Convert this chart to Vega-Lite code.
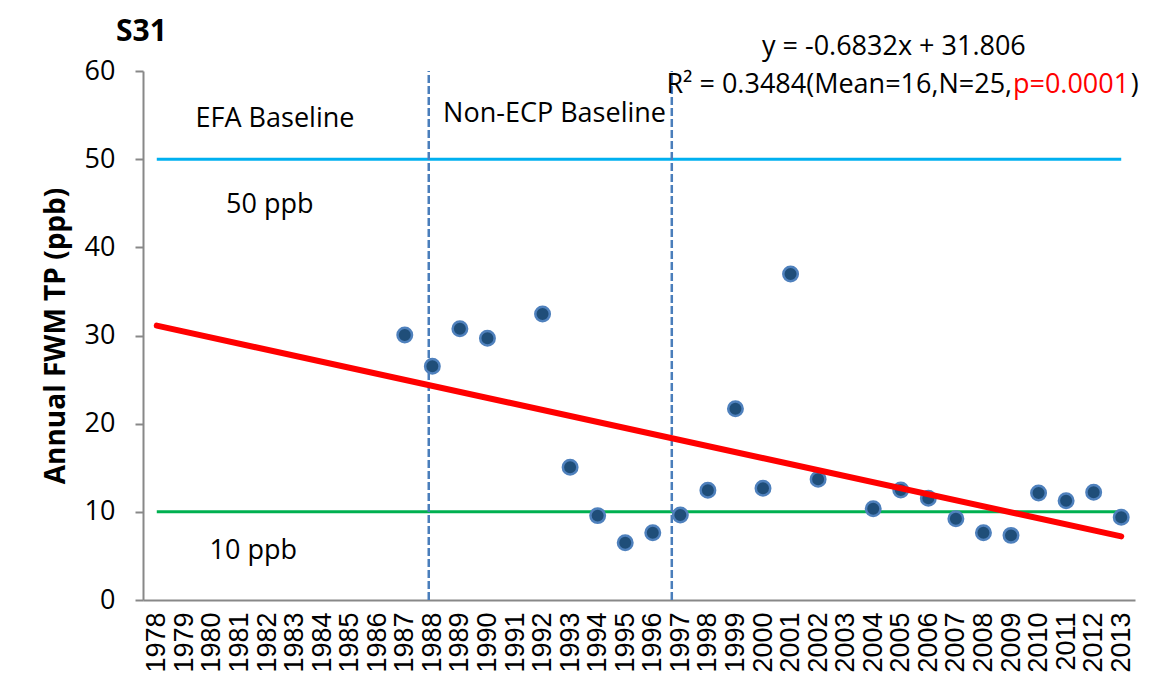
{
  "$schema": "https://vega.github.io/schema/vega-lite/v6.json",
  "autosize": {"type": "none"},
  "width": 992,
  "height": 529,
  "padding": {"left": 143, "top": 71, "right": 16, "bottom": 93},
  "background": "white",
  "config": {
    "view": {"stroke": null},
    "font": "Open Sans",
    "text": {"font": "Open Sans", "fontSize": 27, "color": "black"}
  },
  "title": {
    "text": "S31",
    "anchor": "start",
    "frame": "group",
    "dx": -27,
    "offset": -14,
    "fontSize": 30,
    "fontWeight": "bold",
    "font": "Open Sans",
    "color": "black"
  },
  "datasets": {
    "points": [
      {"year": 1987, "tp": 30.06},
      {"year": 1988, "tp": 26.5},
      {"year": 1989, "tp": 30.77},
      {"year": 1990, "tp": 29.68},
      {"year": 1992, "tp": 32.44},
      {"year": 1993, "tp": 15.05},
      {"year": 1994, "tp": 9.57},
      {"year": 1995, "tp": 6.5},
      {"year": 1996, "tp": 7.64},
      {"year": 1997, "tp": 9.64},
      {"year": 1998, "tp": 12.44},
      {"year": 1999, "tp": 21.7},
      {"year": 2000, "tp": 12.67},
      {"year": 2001, "tp": 36.97},
      {"year": 2002, "tp": 13.69},
      {"year": 2004, "tp": 10.36},
      {"year": 2005, "tp": 12.48},
      {"year": 2006, "tp": 11.53},
      {"year": 2007, "tp": 9.22},
      {"year": 2008, "tp": 7.64},
      {"year": 2009, "tp": 7.33},
      {"year": 2010, "tp": 12.14},
      {"year": 2011, "tp": 11.27},
      {"year": 2012, "tp": 12.22},
      {"year": 2013, "tp": 9.38}
    ],
    "limits": [
      {"year": 1978, "yearEnd": 2013, "tp": 50, "limit": "50 ppb"},
      {"year": 1978, "yearEnd": 2013, "tp": 10, "limit": "10 ppb"}
    ],
    "trend": [
      {"year": 1978, "tp": 31.12},
      {"year": 2013, "tp": 7.21}
    ],
    "periods": [
      {"year": 1987.87, "tp": 0, "tpHigh": 60},
      {"year": 1996.69, "tp": 0, "tpHigh": 60}
    ],
    "centerText": [
      {"year": 1982.29, "tp": 54.55, "label": "EFA Baseline"},
      {"year": 1982.1, "tp": 44.8, "label": "50 ppb"},
      {"year": 1981.5, "tp": 5.56, "label": "10 ppb"},
      {"year": 2004.75, "tp": 62.72, "label": "y = -0.6832x + 31.806"}
    ],
    "leftText": [
      {"year": 1988.39, "tp": 55.12, "label": "Non-ECP Baseline", "part": "black"},
      {"year": 2009.07, "tp": 58.41, "label": "p=0.0001", "part": "red"},
      {"year": 2013.35, "tp": 58.41, "label": ")", "part": "black"}
    ],
    "rightText": [
      {"year": 2009.04, "tp": 58.41, "label": "R² = 0.3484(Mean=16,N=25,"}
    ]
  },
  "encoding": {
    "x": {
      "field": "year",
      "type": "quantitative",
      "scale": {"domain": [1977.5, 2013.5], "nice": false, "zero": false},
      "axis": {
        "title": null,
        "values": [1978, 1979, 1980, 1981, 1982, 1983, 1984, 1985, 1986, 1987, 1988, 1989, 1990, 1991, 1992, 1993, 1994, 1995, 1996, 1997, 1998, 1999, 2000, 2001, 2002, 2003, 2004, 2005, 2006, 2007, 2008, 2009, 2010, 2011, 2012, 2013],
        "format": "d",
        "labelAngle": -90,
        "labelAlign": "right",
        "labelBaseline": "middle",
        "labelFont": "Liberation Sans",
        "labelFontSize": 27,
        "labelColor": "black",
        "labelPadding": 12,
        "labelOverlap": false,
        "labelFlush": false,
        "ticks": false,
        "grid": false,
        "domainColor": "#888888",
        "domainWidth": 2
      }
    },
    "y": {
      "field": "tp",
      "type": "quantitative",
      "scale": {"domain": [0, 60], "nice": false},
      "axis": {
        "title": "Annual FWM TP (ppb)",
        "titleFont": "Open Sans",
        "titleFontSize": 28,
        "titleFontWeight": "bold",
        "titleColor": "black",
        "titlePadding": 14,
        "values": [0, 10, 20, 30, 40, 50, 60],
        "labelFont": "Open Sans",
        "labelFontSize": 27,
        "labelColor": "black",
        "labelPadding": 20,
        "tickSize": 8,
        "tickColor": "#888888",
        "tickWidth": 2,
        "domainColor": "#888888",
        "domainWidth": 2,
        "grid": false
      }
    }
  },
  "layer": [
    {
      "data": {"name": "limits"},
      "mark": {"type": "rule", "strokeWidth": 3},
      "encoding": {
        "x2": {"field": "yearEnd"},
        "color": {
          "field": "limit",
          "type": "nominal",
          "scale": {"domain": ["50 ppb", "10 ppb"], "range": ["#00B0F0", "#00B050"]},
          "legend": null
        }
      }
    },
    {
      "data": {"name": "periods"},
      "mark": {"type": "rule", "strokeWidth": 2.5, "strokeDash": [8, 3], "color": "#4A7EBB"},
      "encoding": {
        "y2": {"field": "tpHigh"}
      }
    },
    {
      "data": {"name": "points"},
      "mark": {"type": "point", "filled": true, "size": 210, "color": "#1F4E79", "stroke": "#4F81BD", "strokeWidth": 2.5, "opacity": 1},
      "encoding": {}
    },
    {
      "data": {"name": "trend"},
      "mark": {"type": "line", "color": "#FF0000", "strokeWidth": 6, "strokeCap": "round"},
      "encoding": {}
    },
    {
      "data": {"name": "centerText"},
      "mark": {"type": "text", "align": "center", "baseline": "middle"},
      "encoding": {
        "text": {"field": "label"}
      }
    },
    {
      "data": {"name": "leftText"},
      "mark": {"type": "text", "align": "left", "baseline": "middle"},
      "encoding": {
        "text": {"field": "label"},
        "color": {
          "field": "part",
          "type": "nominal",
          "scale": {"domain": ["black", "red"], "range": ["#000000", "#FF0000"]},
          "legend": null
        }
      }
    },
    {
      "data": {"name": "rightText"},
      "mark": {"type": "text", "align": "right", "baseline": "middle"},
      "encoding": {
        "text": {"field": "label"}
      }
    }
  ],
  "resolve": {"scale": {"color": "independent"}}
}
